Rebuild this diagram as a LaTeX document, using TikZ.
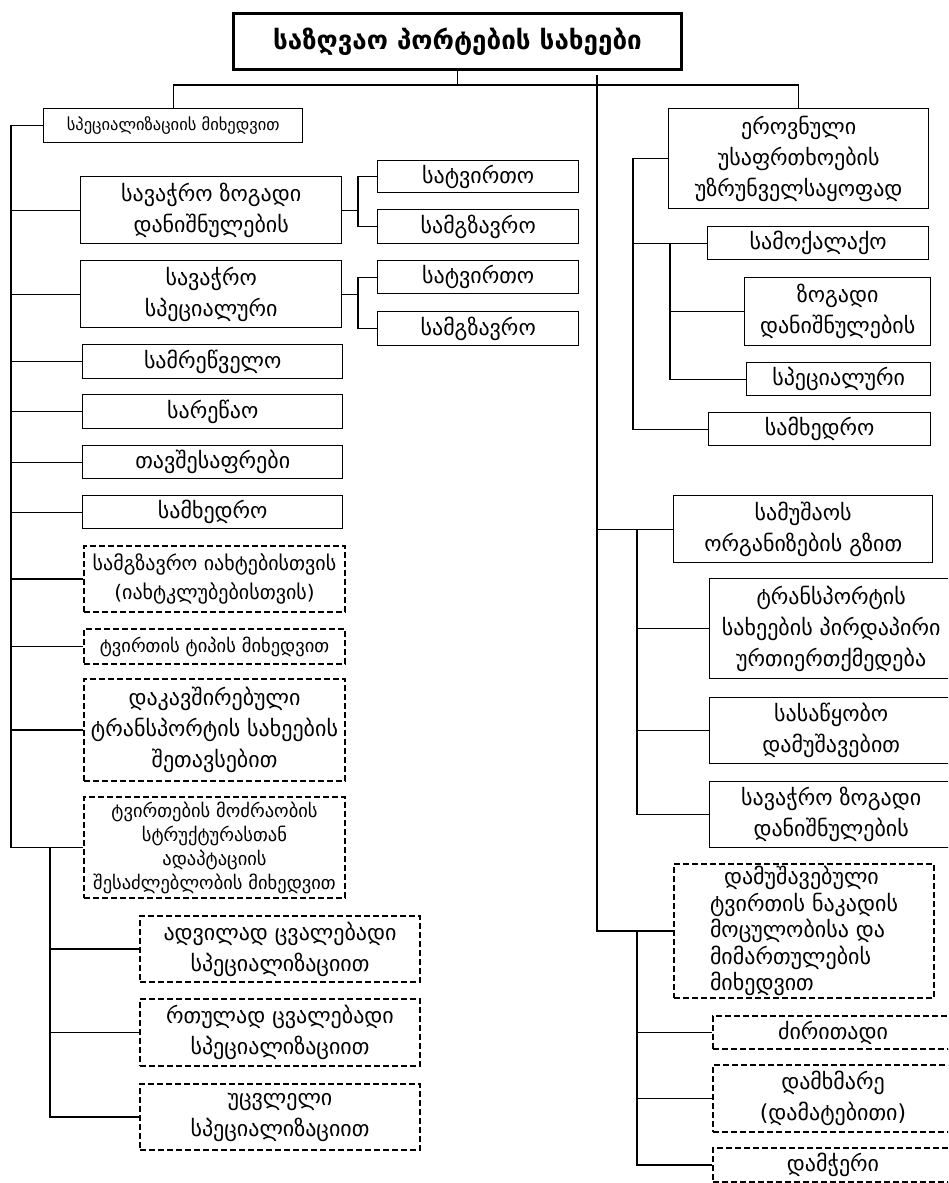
\documentclass[tikz,border=0pt]{standalone}
\usepackage{fontspec}
\setmainfont{DejaVu Sans}
% font sizes used in the chart
\newcommand\mainsz{\fontsize{22}{31}\selectfont}
\newcommand\medsz{\fontsize{18.5}{27}\selectfont}
\newcommand\yachtsz{\fontsize{20}{29}\selectfont}
\newcommand\smlsz{\fontsize{16.5}{23}\selectfont}
\newcommand\notesz{\fontsize{18.5}{24}\selectfont}
\newcommand\flowsz{\fontsize{22}{26.5}\selectfont}
\newcommand\ttlsz{\fontsize{26}{30}\selectfont\bfseries}
% box placed by its top-left and bottom-right corners
\newcommand\placebox[7]{\node[#6, anchor=north west,
  minimum width={(#4)-(#2)}, minimum height={(#5)-(#3)}] (#1) at (#2,#3) {#7};}
\begin{document}
\begin{tikzpicture}[x=1pt,y=-1pt,
  conn/.style={line width=1.2pt},
  solidbox/.style={draw, line width=1.4pt, align=center, inner sep=1pt, font=\mainsz},
  dashbox/.style={draw, line width=2pt, dash pattern=on 6pt off 3pt,
    align=center, inner sep=1pt, font=\mainsz},
  titlebox/.style={draw, line width=3pt, align=center, inner sep=1pt, font=\ttlsz}]
\useasboundingbox (0,0) rectangle (948,1183);
\clip (0,0) rectangle (948,1183);

% ---- title ----
\placebox{title}{232}{12}{680}{68}{titlebox}{საზღვაო პორტების სახეები}

% ---- left branch: by specialisation ----
\placebox{spec}{43}{108}{302}{142}{solidbox, font=\smlsz}{სპეციალიზაციის მიხედვით}
\placebox{savzog}{80}{176}{341}{243}{solidbox}{სავაჭრო ზოგადი\\დანიშნულების}
\placebox{satA}{377}{160}{578}{192}{solidbox}{სატვირთო}
\placebox{samA}{377}{209}{578}{243}{solidbox}{სამგზავრო}
\placebox{savspec}{80}{260}{341}{327}{solidbox}{სავაჭრო\\სპეციალური}
\placebox{satB}{377}{260}{578}{293}{solidbox}{სატვირთო}
\placebox{samB}{377}{311}{578}{345}{solidbox}{სამგზავრო}
\placebox{samrets}{82}{344}{342}{378}{solidbox}{სამრეწველო}
\placebox{sarewao}{82}{394}{342}{428}{solidbox}{სარეწაო}
\placebox{tavsh}{82}{445}{342}{478}{solidbox}{თავშესაფრები}
\placebox{samkh}{82}{495}{342}{528}{solidbox}{სამხედრო}
\placebox{yacht}{83}{545}{344}{611}{dashbox, font=\yachtsz}{სამგზავრო იახტებისთვის\\(იახტკლუბებისთვის)}
\placebox{tvtip}{83}{628}{344}{663}{dashbox, font=\medsz}{ტვირთის ტიპის მიხედვით}
\placebox{dakav}{83}{678}{344}{780}{dashbox}{დაკავშირებული\\ტრანსპორტის სახეების\\შეთავსებით}
\placebox{tvmodz}{83}{796}{344}{897}{dashbox, font=\notesz}{ტვირთების მოძრაობის\\სტრუქტურასთან\\ადაპტაციის\\შესაძლებლობის მიხედვით}
\placebox{adv}{139}{915}{419}{981}{dashbox}{ადვილად ცვალებადი\\სპეციალიზაციით}
\placebox{rtul}{139}{998}{419}{1065}{dashbox}{რთულად ცვალებადი\\სპეციალიზაციით}
\placebox{ucvl}{139}{1083}{419}{1149}{dashbox}{უცვლელი\\სპეციალიზაციით}

% ---- right branch: national security ----
\placebox{erov}{668}{108}{928}{208}{solidbox}{ეროვნული\\უსაფრთხოების\\უზრუნველსაყოფად}
\placebox{samok}{707}{226}{928}{259}{solidbox}{სამოქალაქო}
\placebox{zogR}{744}{277}{930}{345}{solidbox}{ზოგადი\\დანიშნულების}
\placebox{specR}{746}{362}{930}{395}{solidbox}{სპეციალური}
\placebox{samkhR}{708}{412}{930}{445}{solidbox}{სამხედრო}

% ---- right trunk: organisation of work, cargo flow ----
\placebox{samush}{673}{495}{932}{562}{solidbox}{სამუშაოს\\ორგანიზების გზით}
\placebox{transp}{709}{578}{952}{678}{solidbox}{ტრანსპორტის\\სახეების პირდაპირი\\ურთიერთქმედება}
\placebox{sasats}{709}{697}{952}{763}{solidbox}{სასაწყობო\\დამუშავებით}
\placebox{savzogR}{709}{781}{952}{847}{solidbox}{სავაჭრო ზოგადი\\დანიშნულების}
\placebox{damush}{673}{863}{933}{997}{dashbox, align=left, font=\flowsz}{\hspace{14pt}დამუშავებული\\ტვირთის ნაკადის\\მოცულობისა და\\მიმართულების\\მიხედვით}
\placebox{mtavari}{712}{1015}{952}{1048}{dashbox}{ძირითადი}
\placebox{damkh}{712}{1064}{952}{1131}{dashbox}{დამხმარე\\(დამატებითი)}
\placebox{damcher}{712}{1147}{952}{1181}{dashbox}{დამჭერი}

% ---- guide coordinates for the vertical rails ----
\coordinate (bus) at (0,85);
\coordinate (rtop) at (597,75);
\coordinate (lt) at (11,0);
\coordinate (lt2) at (50,0);
\coordinate (fk) at (358,0);
\coordinate (eg) at (633,0);
\coordinate (eg2) at (670,0);
\coordinate (rs) at (637,0);

% ---- connectors ----
\draw[conn] (title.south) -- (title.south |- bus);
\draw[conn] (spec.north) -- (spec.north |- bus) -| (erov.north);
\draw[conn] (rtop) |- (damush.west);
\draw[conn] (samush.west) -- (samush.west -| rtop);

\draw[conn] (spec.west) -- (spec.west -| lt) |- (tvmodz.west);
\foreach \n in {savzog,savspec,samrets,sarewao,tavsh,samkh,yacht,tvtip,dakav}
  \draw[conn] (\n.west) -- (\n.west -| lt);
\draw[conn] (tvmodz.west -| lt2) |- (ucvl.west);
\foreach \n in {adv,rtul}
  \draw[conn] (\n.west) -- (\n.west -| lt2);

\draw[conn] (savzog.east) -- (savzog.east -| fk);
\draw[conn] (satA.west) -- (satA.west -| fk) |- (samA.west);
\draw[conn] (savspec.east) -- (savspec.east -| fk);
\draw[conn] (satB.west) -- (satB.west -| fk) |- (samB.west);

\draw[conn] (erov.west) -- (erov.west -| eg) |- (samkhR.west);
\draw[conn] (samok.west) -- (samok.west -| eg);
\draw[conn] (samok.west -| eg2) |- (specR.west);
\draw[conn] (zogR.west) -- (zogR.west -| eg2);

\draw[conn] (samush.west -| rs) |- (savzogR.west);
\foreach \n in {transp,sasats}
  \draw[conn] (\n.west) -- (\n.west -| rs);
\draw[conn] (damush.west -| rs) |- (damcher.west);
\foreach \n in {mtavari,damkh}
  \draw[conn] (\n.west) -- (\n.west -| rs);
\end{tikzpicture}
\end{document}
